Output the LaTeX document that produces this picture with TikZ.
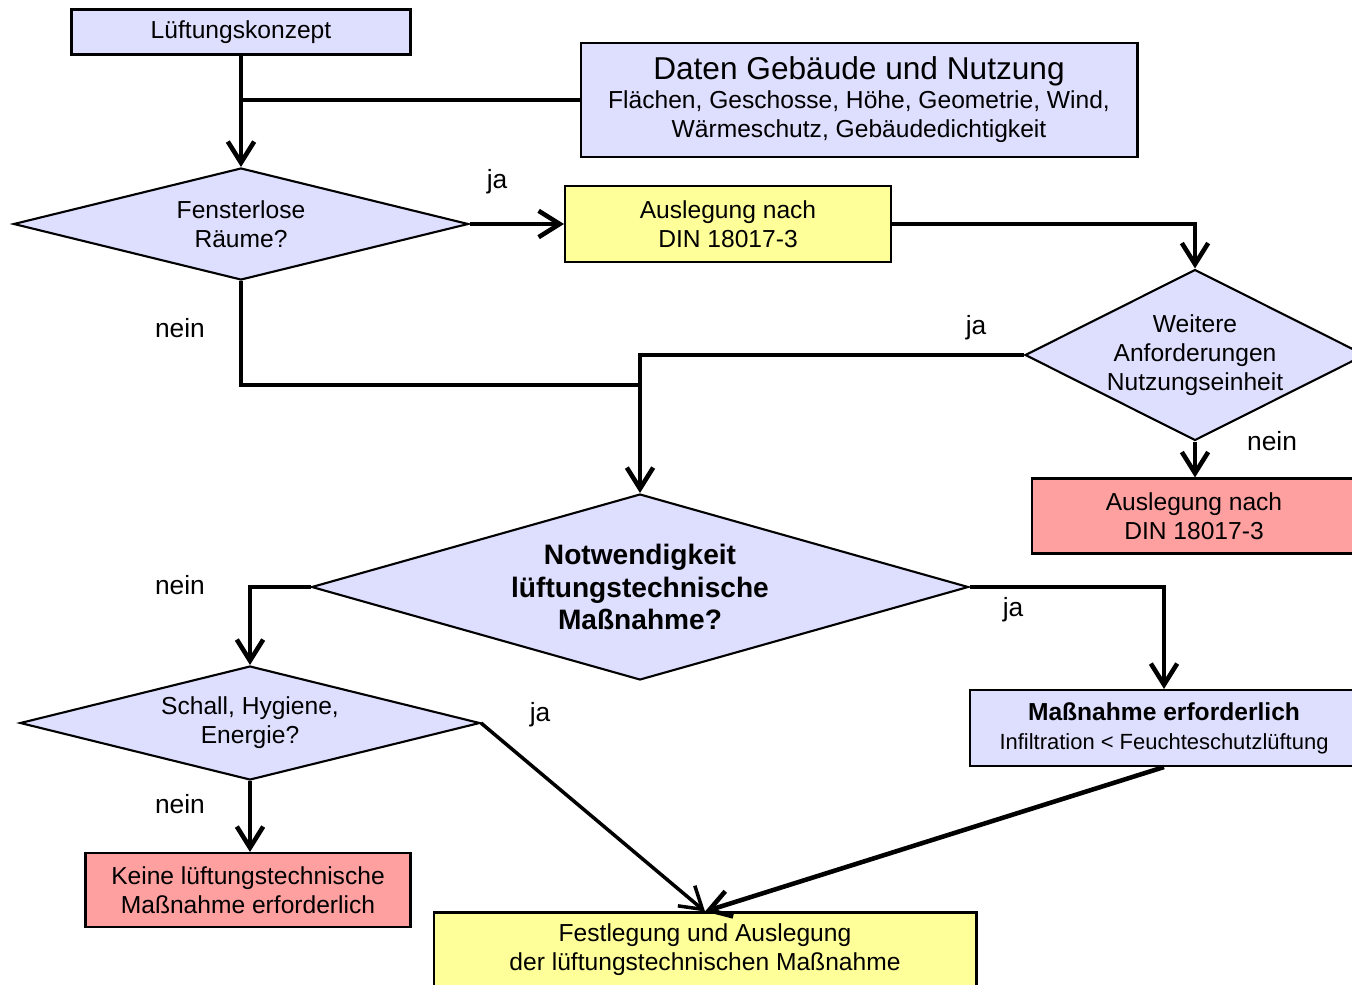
\documentclass[tikz,border=0pt]{standalone}
\usepackage{fontspec}
\setmainfont{Liberation Sans}
\usetikzlibrary{shapes.geometric,arrows.meta}

\definecolor{lila}{RGB}{222,222,255}
\definecolor{gelb}{RGB}{255,255,153}
\definecolor{rosa}{RGB}{255,160,160}

\begin{document}
\begin{tikzpicture}[line join=miter,x=0.02cm,y=-0.02cm,
		>={Straight Barb[length=12pt,width=15pt]},
		kasten/.style={draw,line width=1.2pt,fill=lila,align=center,inner sep=0pt,font=\fontsize{14}{16.5}\selectfont},
		raute/.style={diamond,draw,line width=1.2pt,fill=lila,align=center,inner sep=0pt,font=\fontsize{14}{16.5}\selectfont},
		pfeil/.style={line width=2.6pt,->},
		linie/.style={line width=2.6pt},
		marke/.style={font=\fontsize{15}{18}\selectfont,inner sep=0pt}]%Lüftungskonzept
	\useasboundingbox (0,0) rectangle (1352,984);
	\clip (0,0) rectangle (1352,984);
	\node[kasten,minimum width=6.78cm,minimum height=0.9cm] (konzept) at (241,32) {Lüftungskonzept};
	\node[kasten,minimum width=11.14cm,minimum height=2.28cm] (daten) at (859,100) {{\fontsize{18}{20}\selectfont Daten Gebäude und Nutzung}\\Flächen, Geschosse, Höhe, Geometrie, Wind,\\Wärmeschutz, Gebäudedichtigkeit};
	\node[raute,aspect=4,minimum width=9.1cm,minimum height=2.24cm] (fenster) at (241,224) {Fensterlose\\Räume?};
	\node[kasten,fill=gelb,minimum width=6.52cm,minimum height=1.52cm] (din1) at (728,224) {Auslegung nach\\DIN 18017-3};
	\node[raute,aspect=2,minimum width=6.8cm,minimum height=3.42cm] (weitere) at (1195,355) {Weitere\\Anforderungen\\Nutzungseinheit};
	\node[kasten,fill=rosa,minimum width=6.48cm,minimum height=1.5cm] (din2) at (1194,516) {Auslegung nach\\DIN 18017-3};
	\node[raute,aspect=3.5,minimum width=13.14cm,minimum height=3.72cm,font=\fontsize{16}{18.4}\selectfont\bfseries] (notw) at (640,587) {Notwendigkeit\\lüftungstechnische\\Maßnahme?};
	\node[raute,aspect=4,minimum width=9.2cm,minimum height=2.28cm] (schall) at (250,723) {Schall, Hygiene,\\Energie?};
	\node[kasten,minimum width=7.76cm,minimum height=1.52cm] (erf) at (1164,728) {\textbf{Maßnahme erforderlich}\\{\fontsize{12.5}{15}\selectfont Infiltration < Feuchteschutzlüftung}};
	\node[kasten,fill=rosa,minimum width=6.5cm,minimum height=1.48cm] (keine) at (248,890) {Keine lüftungstechnische\\Maßnahme erforderlich};
	\node[kasten,fill=gelb,minimum width=10.86cm,minimum height=1.5cm] (fest) at (705,950) {Festlegung und Auslegung\\der lüftungstechnischen Maßnahme};
	\coordinate (treff) at (640,385);

	\draw[pfeil] (konzept.south) -- (fenster.north);
	\draw[linie] (daten.west) -- (konzept.south |- daten.west);
	\draw[pfeil] (fenster.east) -- (din1.west);
	\draw[pfeil] (din1.east) -| (weitere.north);
	\draw[linie] (fenster.south) |- (treff);
	\draw[pfeil] (weitere.west) -| (notw.north);
	\draw[pfeil] (weitere.south) -- (weitere.south |- din2.north);
	\draw[pfeil] (notw.west) -| (schall.north);
	\draw[pfeil] (notw.east) -| (erf.north);
	\draw[pfeil] (schall.south) -- (schall.south |- keine.north);
	\draw[pfeil,line width=2pt] (schall.east) -- (fest.north);
	\draw[pfeil] (erf.south) -- (fest.north);

	\node[marke] (ja1) at (497,182) {ja};
	\node[marke] (nein1) at (180,328) {nein};
	\node[marke] (ja2) at (976,328) {ja};
	\node[marke] (nein2) at (1272,441) {nein};
	\node[marke] (nein3) at (180,585) {nein};
	\node[marke] (ja3) at (1013,610) {ja};
	\node[marke] (ja4) at (540,715) {ja};
	\node[marke] (nein4) at (180,804) {nein};
\end{tikzpicture}
\end{document}
